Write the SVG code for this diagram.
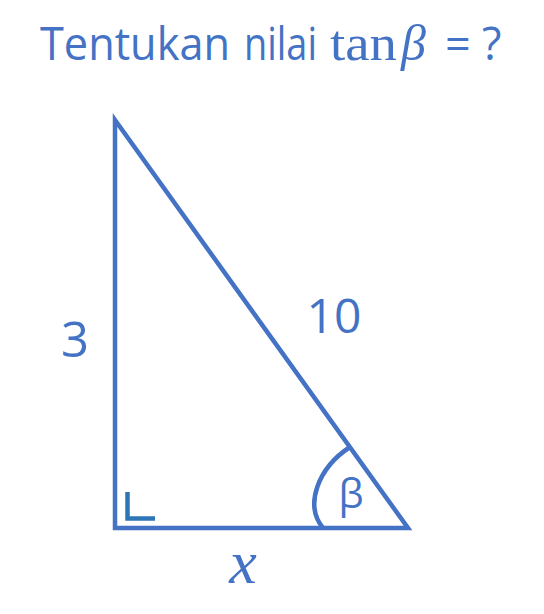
<svg xmlns="http://www.w3.org/2000/svg" width="544" height="614" viewBox="0 0 544 614">
<style>
.t{fill:#4472C4;font-family:"Open Sans","Noto Sans",sans-serif}
.s{fill:#4472C4;font-family:"Liberation Serif","DejaVu Serif",serif}
.ln{fill:none;stroke:#4472C4;stroke-width:4.5}
</style>
<rect width="544" height="614" fill="#fff"/>
<g id="title">
<text class="t" x="40" y="60" font-size="45" textLength="190" lengthAdjust="spacingAndGlyphs">Tentukan</text>
<text class="t" x="244" y="60" font-size="45" textLength="73" lengthAdjust="spacingAndGlyphs">nilai</text>
<text class="s" x="330" y="60" font-size="50" textLength="67" lengthAdjust="spacingAndGlyphs">tan</text>
<text class="s" x="401" y="60" font-size="50" font-style="italic">β</text>
<text class="t" x="445" y="60" font-size="45">=</text>
<text class="t" x="482" y="60" font-size="45">?</text>
</g>
<g id="triangle">
<path class="ln" d="M115,120 L115,528 L408,528 Z" stroke-linejoin="miter" stroke-miterlimit="10"/>
</g>
<g id="angle-beta">
<path class="ln" d="M350,447 C318,468 304,505 323,528" stroke-width="4"/>
<text class="t" x="351" y="508" font-size="40" text-anchor="middle">β</text>
</g>
<g id="right-angle">
<path d="M127.5,492 V518.5 H155" fill="none" stroke="#2E75B6" stroke-width="4.5" stroke-linejoin="miter"/>
</g>
<g id="labels">
<text class="t" x="75" y="357" font-size="49" text-anchor="middle">3</text>
<text class="t" x="334" y="333" font-size="48" text-anchor="middle">10</text>
<text class="s" x="243" y="583" font-size="62" font-style="italic" text-anchor="middle">x</text>
</g>
</svg>
